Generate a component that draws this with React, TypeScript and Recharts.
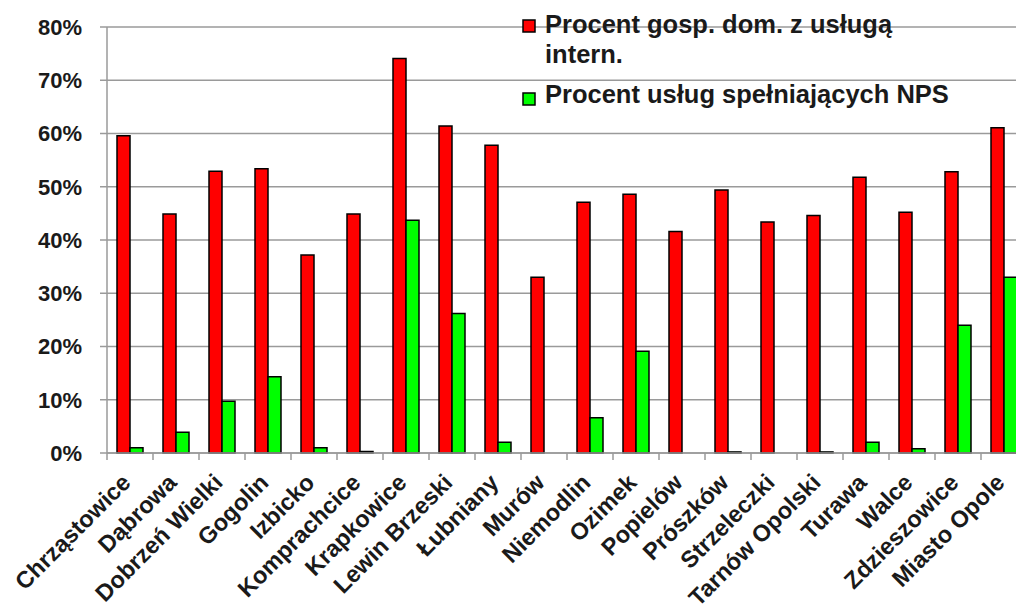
import React from 'react';
import { BarChart, Bar, XAxis, YAxis, CartesianGrid, Legend } from 'recharts';

const categories = [
  'Chrząstowice', 'Dąbrowa', 'Dobrzeń Wielki', 'Gogolin', 'Izbicko', 'Komprachcice',
  'Krapkowice', 'Lewin Brzeski', 'Łubniany', 'Murów', 'Niemodlin', 'Ozimek',
  'Popielów', 'Prószków', 'Strzeleczki', 'Tarnów Opolski', 'Turawa', 'Walce',
  'Zdzieszowice', 'Miasto Opole',
];
const householdsWithInternet = [
  59.6, 44.9, 52.9, 53.4, 37.2, 44.9, 74.1, 61.4, 57.8, 33.0,
  47.1, 48.6, 41.6, 49.4, 43.4, 44.6, 51.8, 45.2, 52.8, 61.1,
];
const servicesMeetingNPS = [
  1.0, 3.9, 9.7, 14.3, 1.0, 0.3, 43.7, 26.2, 2.0, 0,
  6.6, 19.1, 0, 0.2, 0, 0.2, 2.0, 0.8, 24.0, 33.0,
];
const yTicks = [0, 10, 20, 30, 40, 50, 60, 70, 80];
const seriesLabels = [
  ['Procent gosp. dom. z usługą', 'intern.'],
  ['Procent usług spełniających NPS'],
];
const seriesColors = ['#FF0000', '#00FF00'];

const data = categories.map((name, i) => ({
  name,
  households: householdsWithInternet[i],
  nps: servicesMeetingNPS[i],
}));

const FONT = "Arial, 'Liberation Sans', sans-serif";
const TEXT = '#1a1a1a';
const GRID = '#9a9a9a';
const CHART_W = 1040;
const CHART_H = 610;
const MARGIN = { top: 27, right: 13, bottom: 0, left: 0 };
const Y_W = 107;
const BAND = (CHART_W - MARGIN.left - MARGIN.right - Y_W) / categories.length;

const XTick = (props: any) => {
  const { x, y, payload, index } = props;
  return (
    <g>
      <line x1={x - BAND / 2} y1={y} x2={x - BAND / 2} y2={y + 7} stroke={GRID} strokeWidth={1.5} />
      {index === categories.length - 1 && (
        <line x1={x + BAND / 2} y1={y} x2={x + BAND / 2} y2={y + 7} stroke={GRID} strokeWidth={1.5} />
      )}
      <text
        transform={`translate(${x + 2},${y + 31}) rotate(-45)`}
        textAnchor="end"
        fontSize={23.5}
        fontWeight="bold"
        fontFamily={FONT}
        fill={TEXT}
      >
        {payload.value}
      </text>
    </g>
  );
};

const LegendContent = () => (
  <svg width={500} height={115} style={{ display: 'block' }}>
    <rect x={8} y={20} width={12} height={12} fill={seriesColors[0]} stroke="#000" strokeWidth={1.5} />
    {seriesLabels[0].map((t, i) => (
      <text key={t} x={30} y={33 + i * 30} fontSize={25.5} fontWeight="bold" fontFamily={FONT} fill={TEXT}>
        {t}
      </text>
    ))}
    <rect x={8} y={93} width={12} height={12} fill={seriesColors[1]} stroke="#000" strokeWidth={1.5} />
    {seriesLabels[1].map((t) => (
      <text key={t} x={30} y={103} fontSize={25.5} fontWeight="bold" fontFamily={FONT} fill={TEXT}>
        {t}
      </text>
    ))}
  </svg>
);

export default function App() {
  return (
    <div
      style={{
        position: 'absolute',
        left: 0,
        top: 0,
        width: 1016,
        height: 610,
        overflow: 'hidden',
        background: '#fff',
      }}
    >
      <BarChart width={CHART_W} height={CHART_H} data={data} margin={MARGIN} barGap={0}>
        <CartesianGrid vertical={false} stroke={GRID} strokeWidth={1.5} />
        <XAxis
          dataKey="name"
          interval={0}
          height={CHART_H - 453 - MARGIN.bottom}
          tickLine={false}
          tickSize={0}
          tickMargin={0}
          axisLine={{ stroke: GRID, strokeWidth: 1.5 }}
          tick={<XTick />}
        />
        <YAxis
          width={Y_W}
          domain={[0, 80]}
          ticks={yTicks}
          interval={0}
          tickFormatter={(v: number) => `${v}%`}
          tickSize={7}
          tickMargin={18}
          tickLine={{ stroke: GRID, strokeWidth: 1.5 }}
          axisLine={{ stroke: GRID, strokeWidth: 1.5 }}
          tick={{ fontSize: 22, fontWeight: 'bold', fill: TEXT, fontFamily: FONT }}
        />
        <Legend
          verticalAlign="middle"
          align="center"
          layout="horizontal"
          wrapperStyle={{ position: 'absolute', left: 515, top: 0, width: 500, height: 115 }}
          content={<LegendContent />}
        />
        <Bar
          dataKey="households"
          name={seriesLabels[0].join(' ')}
          fill={seriesColors[0]}
          stroke="#000"
          strokeWidth={1.5}
          barSize={13}
          isAnimationActive={false}
        />
        <Bar
          dataKey="nps"
          name={seriesLabels[1].join(' ')}
          fill={seriesColors[1]}
          stroke="#000"
          strokeWidth={1.5}
          barSize={13}
          isAnimationActive={false}
        />
      </BarChart>
    </div>
  );
}
